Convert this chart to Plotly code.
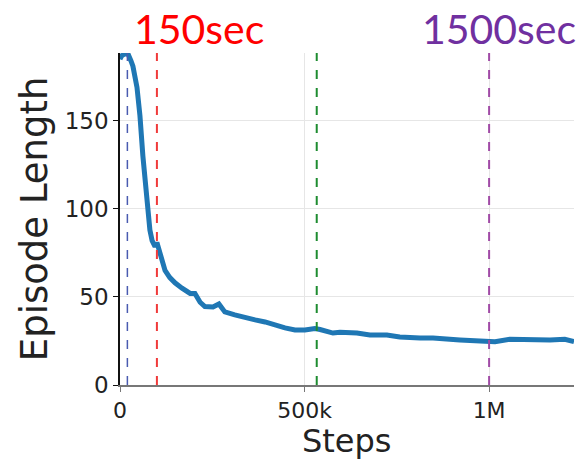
import plotly.graph_objects as go

# Training curve
steps = [0, 5000, 13500, 21700, 29800, 35000, 46000, 54000, 62000, 70000, 76000,
         81000, 87000, 95000, 100000, 108000, 116000, 122000, 135000, 149000,
         168000, 190000, 203000, 217000, 230000, 252000, 268000, 284000, 311000,
         339000, 366000, 393000, 420000, 447000, 474000, 501000, 528000, 542000,
         577000, 596000, 642000, 677000, 723000, 758000, 813000, 848000, 921000,
         1000000, 1016000, 1056000, 1110000, 1165000, 1205000, 1230000]
episode_length = [185, 187, 188, 188, 184, 181, 169, 153, 130, 111, 94,
                  88, 82, 78.5, 81, 75, 70, 65, 61, 58,
                  55, 52, 52, 47, 44.5, 44.3, 46, 41.5, 39.8,
                  38, 37, 35.8, 34, 32.4, 31.2, 31.2, 32, 31.5,
                  29.5, 30, 29.5, 28.4, 28.4, 27.3, 26.7, 26.7, 25.6,
                  25.2, 24.6, 26, 25.6, 25.6, 26, 24.6]

# Vertical marker lines
marker_steps = [20000, 100000, 533000, 1000000]
marker_colors = ["#4a5bb0", "#f03a3a", "#1e8c30", "#a04aa6"]
marker_widths = [1.5, 2, 2, 2]

# Time labels
label_texts = ["150sec", "1500sec"]
label_colors = ["#ff0000", "#7030a0"]
label_x = [0.174, 0.834]

x_tickvals = [0, 500000, 1000000]
x_ticktext = ["0", "500k", "1M"]
y_tickvals = [0, 50, 100, 150]

fig = go.Figure()
fig.add_trace(go.Scatter(x=steps, y=episode_length, mode="lines",
                         line=dict(color="#1f77b4", width=5), showlegend=False,
                         cliponaxis=True))

for xs, c, w in zip(marker_steps, marker_colors, marker_widths):
    fig.add_shape(type="line", x0=xs, x1=xs, y0=0, y1=1, xref="x", yref="paper",
                  line=dict(color=c, width=w, dash="dash"), layer="above")

for t, c, xp in zip(label_texts, label_colors, label_x):
    fig.add_annotation(text=t, x=xp, y=1.075, xref="paper", yref="paper",
                       showarrow=False, xanchor="center", yanchor="middle",
                       font=dict(family="Lato", size=41, color=c))

# axis titles
fig.add_annotation(text="Steps", x=0.5, y=-0.169, xref="paper", yref="paper",
                   showarrow=False, xanchor="center", yanchor="middle", borderpad=0,
                   font=dict(size=32, family="DejaVu Sans", color="#222"))
fig.add_annotation(text="Episode Length", x=-0.189, y=0.5, xref="paper", yref="paper",
                   showarrow=False, xanchor="center", yanchor="middle", textangle=-90,
                   font=dict(size=37, family="DejaVu Sans", color="#222"))

fig.update_layout(
    width=584, height=461,
    margin=dict(l=120, r=10, t=53, b=76),
    paper_bgcolor="white", plot_bgcolor="white",
    font=dict(family="DejaVu Sans", color="#222"),
    xaxis=dict(range=[0, 1230000], tickvals=x_tickvals, ticktext=x_ticktext,
               automargin=False,
               showgrid=True, gridcolor="#e6e6e6", gridwidth=1, zeroline=False,
               showline=True, linecolor="#777", linewidth=1.5,
               ticks="outside", ticklen=5, tickcolor="#777",
               tickfont=dict(size=22, family="DejaVu Sans", color="#222")),
    yaxis=dict(range=[0, 188.5], tickvals=y_tickvals,
               automargin=False,
               showgrid=True, gridcolor="#e6e6e6", gridwidth=1, zeroline=False,
               showline=True, linecolor="#111", linewidth=1.5,
               ticks="outside", ticklen=5, tickcolor="#111",
               tickfont=dict(size=23, family="DejaVu Sans", color="#222")),
)

fig.write_html("out.html")
